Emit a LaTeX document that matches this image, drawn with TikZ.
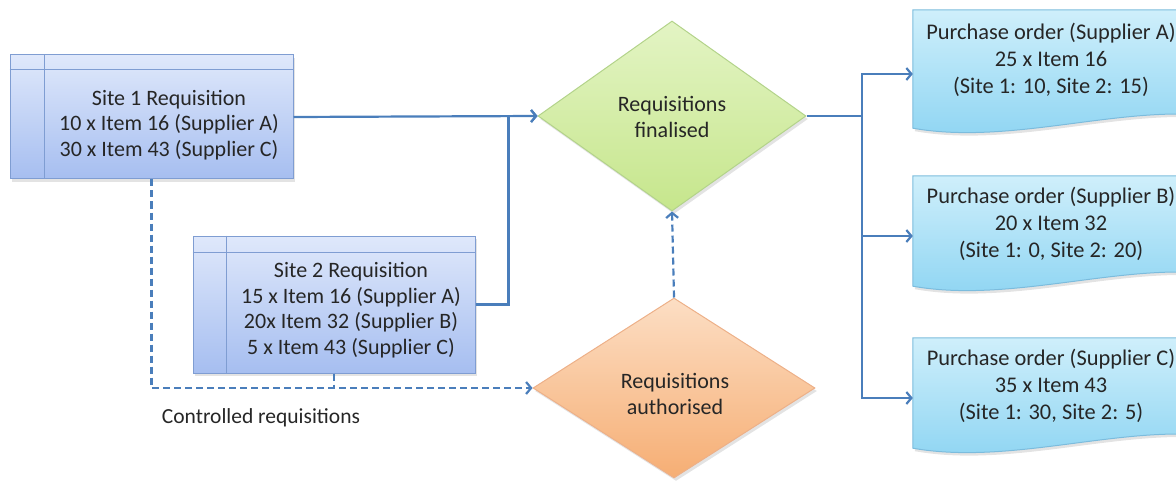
\documentclass[tikz,border=0pt]{standalone}
\usepackage{fontspec}
\setmainfont{Carlito}
\usetikzlibrary{arrows.meta,shapes.geometric,shadows,calc}

\definecolor{flowblue}{HTML}{4A7EBB}
\definecolor{txtgray}{HTML}{262626}
\definecolor{siteTop}{HTML}{DFE8FB}
\definecolor{siteBot}{HTML}{A6BEF0}
\definecolor{siteEdge}{HTML}{7F9DD2}
\definecolor{finTop}{HTML}{E3F4C4}
\definecolor{finBot}{HTML}{C6E68C}
\definecolor{finEdge}{HTML}{B3D38A}
\definecolor{authTop}{HTML}{FCDEC4}
\definecolor{authBot}{HTML}{F6AE74}
\definecolor{authEdge}{HTML}{EDB088}
\definecolor{docTop}{HTML}{CFEFFB}
\definecolor{docBot}{HTML}{8CD4F2}
\definecolor{docEdge}{HTML}{7CBCDD}

\tikzset{
  txt/.style={font=\fontsize{22}{25.5}\selectfont, align=center, text=txtgray, inner sep=0pt},
  potxt/.style={txt, font=\fontsize{22.4}{27}\selectfont},
  softshadow/.style={drop shadow={opacity=0.22, shadow xshift=2pt, shadow yshift=-3pt}},
  sitebox/.style={rectangle, draw=siteEdge, line width=1pt, top color=siteTop, bottom color=siteBot, inner sep=0pt, softshadow},
  siteline/.style={draw=siteEdge, line width=1pt},
  decision/.style={diamond, inner sep=0pt, line width=1pt, softshadow},
  docframe/.style={rectangle, inner sep=0pt, minimum width=277pt},
  docshape/.style={draw=docEdge, line width=1pt, top color=docTop, bottom color=docBot, softshadow},
  flow/.style={draw=flowblue, line width=2.2pt, >={Straight Barb[length=5pt,width=12pt]}},
  dashflow/.style={flow, dash pattern=on 7pt off 4pt},
}

\newcommand{\docpath}[1]{%
  \path[docshape] (#1.north west) -- (#1.north east) -- ($(#1.south east)+(0,-24)$)
    .. controls ($(#1.south west)+(190,-27)$) and ($(#1.south west)+(90,6)$) .. ($(#1.south west)+(0,-10)$)
    -- cycle;}

\begin{document}
\begin{tikzpicture}[x=1pt,y=-1pt]
\useasboundingbox (0,0) rectangle (1176,484);

% requisition boxes
\node[sitebox, minimum width=283pt, minimum height=124pt] (s1) at (151.5,117) {};
\draw[siteline] ($(s1.north west)+(35,0)$) -- ($(s1.south west)+(35,0)$);
\draw[siteline] ($(s1.north west)+(0,15)$) -- ($(s1.north east)+(0,15)$);
\node[txt] (s1t) at (169,125) {Site 1 Requisition\\10 x Item 16 (Supplier A)\\30 x Item 43 (Supplier C)};

\node[sitebox, minimum width=282pt, minimum height=137pt] (s2) at (334,304.5) {};
\draw[siteline] ($(s2.north west)+(34,0)$) -- ($(s2.south west)+(34,0)$);
\draw[siteline] ($(s2.north west)+(0,17)$) -- ($(s2.north east)+(0,17)$);
\node[txt] (s2t) at (351,310) {Site 2 Requisition\\15 x Item 16 (Supplier A)\\20x Item 32 (Supplier B)\\5 x Item 43 (Supplier C)};

% decisions
\node[decision, draw=finEdge, top color=finTop, bottom color=finBot, minimum width=268pt, minimum height=190pt] (fin) at (672,116) {};
\node[txt] (fint) at (672,117) {Requisitions\\finalised};

\node[decision, draw=authEdge, top color=authTop, bottom color=authBot, minimum width=282pt, minimum height=180pt] (auth) at (674,388) {};
\node[txt] (autht) at (675,394) {Requisitions\\authorised};

% purchase orders
\node[docframe, minimum height=128pt] (poA) at (1051.5,74) {};
\docpath{poA}
\node[potxt] (poAt) at (1051,60) {Purchase order (Supplier A)\\25 x Item 16\\(Site 1: 10, Site 2: 15)};

\node[docframe, minimum height=120pt] (poB) at (1051.5,236) {};
\docpath{poB}
\node[potxt] (poBt) at (1051,224) {Purchase order (Supplier B)\\20 x Item 32\\(Site 1: 0, Site 2: 20)};

\node[docframe, minimum height=120pt] (poC) at (1051.5,398) {};
\docpath{poC}
\node[potxt] (poCt) at (1051,386) {Purchase order (Supplier C)\\35 x Item 43\\(Site 1: 30, Site 2: 5)};

% connectors
\draw[flow,->] (s1.east) -- (fin.west);
\draw[flow,->] (s2.east) -- ++(33,0) |- (fin.west);

\coordinate (split) at (862,116);
\draw[flow] (fin.east) -- (split);
\draw[flow,->] (split) |- (poA.west);
\draw[flow,->] (split) |- (poB.west);
\draw[flow,->] (split) |- (poC.west);

\draw[dashflow,->] (s1.south) |- (auth.west);
\draw[dashflow] (s2.south) -- (s2.south |- auth.west);
\draw[dashflow,->] (auth.north) -- (fin.south);

\node[txt, font=\fontsize{21.5}{25}\selectfont] (ctl) at (261,418) {Controlled requisitions};
\end{tikzpicture}
\end{document}
